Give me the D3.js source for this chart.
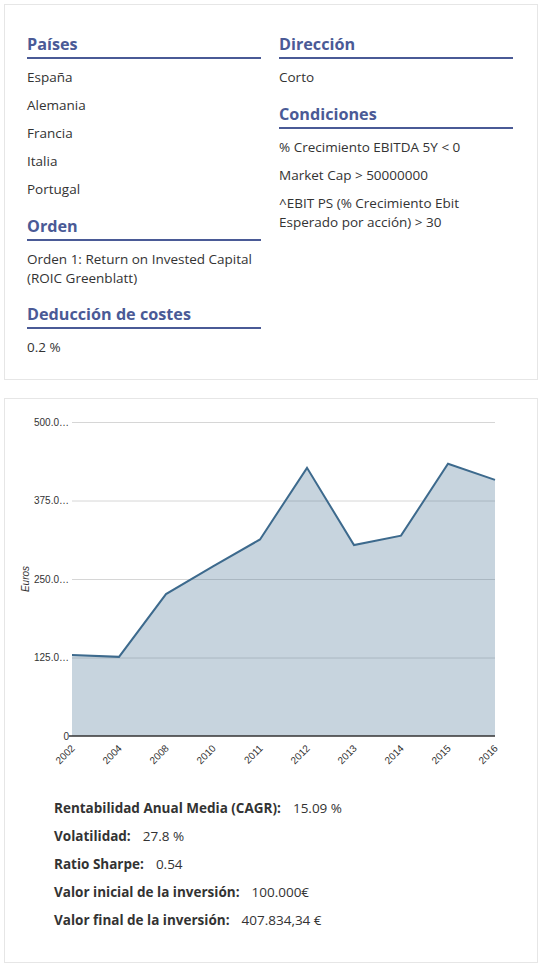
<!DOCTYPE html>
<html>
<head>
<meta charset="utf-8">
<script src="https://cdn.jsdelivr.net/npm/d3@7"></script>
<style>
  body { margin: 0; background: #fff; font-family: "Open Sans", sans-serif; color: #333; }
  .panel { position: absolute; box-sizing: border-box; border: 1px solid #e6e6e6; background: #fff; }
  .col { position: absolute; width: 234px; }
  .head { font-size: 16.2px; font-weight: bold; color: #4a5a96; line-height: 20px; padding-bottom: 3px; border-bottom: 2px solid #4a5a96; }
  .head.next { margin-top: 16.5px; }
  .item { font-size: 13.5px; line-height: 19px; padding-top: 9px; }
  .stat { position: absolute; left: 54px; font-size: 13.5px; line-height: 19px; }
  .stat b { padding-right: 12px; }
  .axis text { font-family: "Liberation Sans", Arial, sans-serif; font-size: 10px; fill: #333; }
</style>
</head>
<body>
<script>
// filtros de la estrategia
const paises = ["España", "Alemania", "Francia", "Italia", "Portugal"];
const orden = ["Orden 1: Return on Invested Capital (ROIC Greenblatt)"];
const costes = ["0.2 %"];
const direccion = ["Corto"];
const condiciones = ["% Crecimiento EBITDA 5Y < 0", "Market Cap > 50000000", "^EBIT PS (% Crecimiento Ebit Esperado por acción) > 30"];

// evolución de la cartera
const years = ["2002", "2004", "2008", "2010", "2011", "2012", "2013", "2014", "2015", "2016"];
const values = [129000, 126000, 226000, 270000, 313000, 427000, 304000, 319000, 433500, 407834.34];
const yTicks = [0, 125000, 250000, 375000, 500000];
const yTickLabels = ["0", "125.0…", "250.0…", "375.0…", "500.0…"];

const statLabels = ["Rentabilidad Anual Media (CAGR):", "Volatilidad:", "Ratio Sharpe:", "Valor inicial de la inversión:", "Valor final de la inversión:"];
const statValues = ["15.09 %", "27.8 %", "0.54", "100.000€", "407.834,34 €"];

const body = d3.select('body');

// panel de filtros
body.append('div').attr('class', 'panel')
  .style('left', '4px').style('top', '4px')
  .style('width', '534px').style('height', '376px');

function section(col, title, items, first) {
  col.append('div').attr('class', first ? 'head' : 'head next').text(title);
  col.selectAll(null)
    .data(items)
    .enter()
    .append('div')
    .attr('class', 'item')
    .text((d) => d);
}

const left = body.append('div').attr('class', 'col').style('left', '27px').style('top', '34px');
section(left, 'Países', paises, true);
section(left, 'Orden', orden);
section(left, 'Deducción de costes', costes);

const right = body.append('div').attr('class', 'col').style('left', '279px').style('top', '34px');
section(right, 'Dirección', direccion, true);
section(right, 'Condiciones', condiciones);

// panel del gráfico
body.append('div').attr('class', 'panel')
  .style('left', '4px').style('top', '398px')
  .style('width', '534px').style('height', '565px');

const margin = { top: 24, left: 68 };
const width = 423;
const height = 314;

const svg = body.append('svg')
  .style('position', 'absolute')
  .style('left', '4px')
  .style('top', '398px')
  .attr('width', 534)
  .attr('height', 385);

const g = svg.append('g')
  .attr('transform', 'translate(' + margin.left + ',' + margin.top + ')');

const xScale = d3.scalePoint()
  .domain(years)
  .range([0, width]);

const yScale = d3.scaleLinear()
  .domain([0, 500000])
  .range([height, 0]);

// rejilla
g.append('g')
  .attr('class', 'grid')
  .call(d3.axisLeft(yScale).tickValues(yTicks.slice(1)).tickSize(-width).tickFormat(''))
  .call((s) => s.select('.domain').remove())
  .selectAll('line')
  .attr('stroke', '#d6d6d6');

const area = d3.area()
  .x((d, i) => xScale(years[i]))
  .y0(height)
  .y1((d) => yScale(d));

const line = d3.line()
  .x((d, i) => xScale(years[i]))
  .y((d) => yScale(d));

g.append('path')
  .datum(values)
  .attr('d', area)
  .attr('fill', '#4a7396')
  .attr('fill-opacity', 0.31);

g.append('path')
  .datum(values)
  .attr('d', line)
  .attr('fill', 'none')
  .attr('stroke', '#3d6a8d')
  .attr('stroke-width', 2);

// ejes
const yAxis = g.append('g')
  .attr('class', 'axis')
  .call(d3.axisLeft(yScale).tickValues(yTicks).tickSize(0).tickPadding(3)
    .tickFormat((d, i) => yTickLabels[i]));
yAxis.select('.domain').remove();

const xAxis = g.append('g')
  .attr('class', 'axis')
  .attr('transform', 'translate(0,' + height + ')')
  .call(d3.axisBottom(xScale).tickSize(0));
xAxis.select('.domain').remove();
xAxis.append('line')
  .attr('x1', -3)
  .attr('x2', width)
  .attr('stroke', '#333')
  .attr('stroke-width', 1.5);
xAxis.selectAll('text')
  .attr('x', 0)
  .attr('y', 0)
  .attr('dy', 0)
  .attr('transform', 'translate(3,13) rotate(-45)')
  .style('text-anchor', 'end');

svg.append('text')
  .attr('transform', 'translate(25,181) rotate(-90)')
  .style('font-family', '"Liberation Sans", Arial, sans-serif')
  .style('font-size', '10px')
  .style('font-style', 'italic')
  .style('text-anchor', 'middle')
  .attr('fill', '#333')
  .text('Euros');

// resumen
const stats = body.selectAll('.stat')
  .data(statLabels)
  .enter()
  .append('div')
  .attr('class', 'stat')
  .style('top', (d, i) => (798.5 + i * 28) + 'px');

stats.append('b').text((d) => d);
stats.append('span').text((d, i) => statValues[i]);
</script>
</body>
</html>
